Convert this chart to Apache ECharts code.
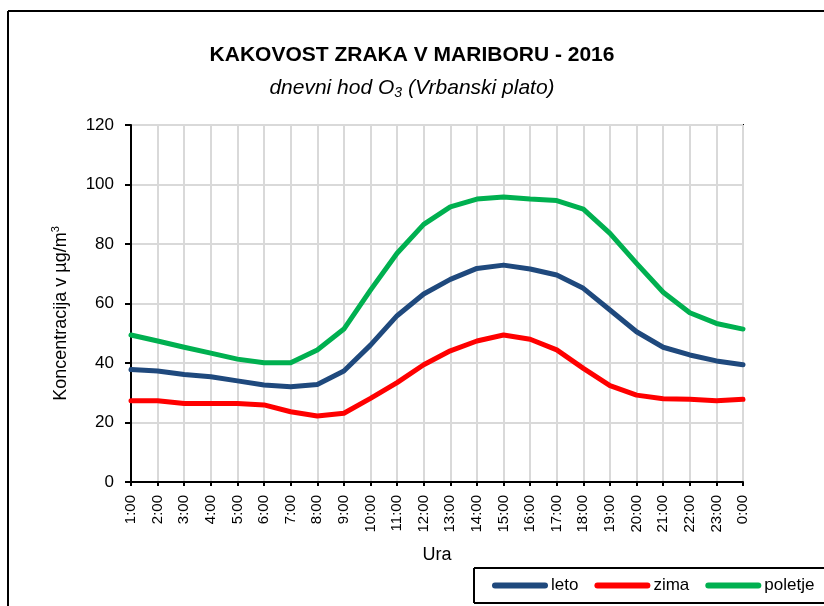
<!DOCTYPE html>
<html>
<head>
<meta charset="utf-8">
<script src="https://cdn.jsdelivr.net/npm/echarts@6/dist/echarts.min.js"></script>
<style>
html,body{margin:0;padding:0;background:#fff;overflow:hidden;}
#chart{width:824px;height:606px;}
</style>
</head>
<body>
<div id="chart"></div>
<script>
var hours = ['1:00','2:00','3:00','4:00','5:00','6:00','7:00','8:00','9:00','10:00','11:00','12:00',
  '13:00','14:00','15:00','16:00','17:00','18:00','19:00','20:00','21:00','22:00','23:00','0:00'];
var leto = [37.8,37.3,36.1,35.4,34.0,32.6,32.0,32.8,37.3,46.0,55.9,63.2,68.1,71.8,72.9,71.6,69.6,65.1,57.8,50.5,45.3,42.7,40.7,39.4];
var zima = [27.3,27.3,26.4,26.4,26.4,25.9,23.6,22.2,23.1,28.1,33.4,39.4,44.1,47.4,49.4,48.0,44.4,38.2,32.4,29.2,28.0,27.8,27.3,27.8];
var poletje = [49.4,47.4,45.3,43.3,41.3,40.1,40.1,44.4,51.4,64.5,76.9,86.6,92.5,95.1,95.8,95.1,94.6,91.7,83.6,73.5,63.8,56.9,53.3,51.4];
var seriesNames = ['leto','zima','poletje'];
var seriesColors = ['#1F497D','#FF0000','#00B050'];
var yTicks = {min:0, max:120, interval:20};

var FONT = "'Liberation Sans',Arial,sans-serif";

var chart = echarts.init(document.getElementById('chart'), null, {renderer:'canvas'});
var capsule = 'path://M3,0 L53,0 A3,3 0 0 1 53,6 L3,6 A3,3 0 0 1 3,0 Z';

var option = {
  backgroundColor:'#fff',
  animation:false,
  graphic:[{
    type:'line', z:-10,
    shape:{x1:8, y1:11, x2:1000, y2:11},
    style:{stroke:'#000', lineWidth:2}
  },{
    type:'line', z:-10,
    shape:{x1:8, y1:11, x2:8, y2:1000},
    style:{stroke:'#000', lineWidth:2}
  },{
    type:'line', z:-5,
    shape:{x1:474, y1:568, x2:1000, y2:568},
    style:{stroke:'#000', lineWidth:2}
  },{
    type:'line', z:-5,
    shape:{x1:474, y1:568, x2:474, y2:603},
    style:{stroke:'#000', lineWidth:2}
  },{
    type:'line', z:-5,
    shape:{x1:474, y1:603, x2:1000, y2:603},
    style:{stroke:'#000', lineWidth:2}
  }],
  title:[{
    text:'KAKOVOST ZRAKA V MARIBORU - 2016',
    left:'center', top:40,
    textStyle:{fontFamily:FONT, fontSize:21, fontWeight:'bold', color:'#000'}
  },{
    text:'{a|dnevni hod O}{s|3}{a| (Vrbanski plato)}',
    left:'center', top:71,
    textStyle:{
      fontWeight:'normal',
      rich:{
        a:{fontFamily:FONT, fontSize:21, fontStyle:'italic', fontWeight:'normal', color:'#000', lineHeight:24, verticalAlign:'middle'},
        s:{fontFamily:FONT, fontSize:14, fontStyle:'italic', fontWeight:'normal', color:'#000', lineHeight:14, verticalAlign:'bottom'}
      }
    }
  }],
  legend:{
    left:474, top:568, width:340,
    data:seriesNames.map(function(n){return {name:n, icon:capsule};}),
    itemWidth:56, itemHeight:6, itemGap:16,
    padding:[9,0,8,18],
    textStyle:{fontFamily:FONT, fontSize:17, color:'#000', padding:[0,0,0,-2]}
  },
  grid:{left:131, right:81, top:125, bottom:124, show:true, borderColor:'#000', borderWidth:2},
  xAxis:{
    type:'category', data:hours, boundaryGap:false,
    name:'Ura', nameLocation:'middle', nameGap:64,
    nameTextStyle:{fontFamily:FONT, fontSize:18, color:'#000'},
    axisLine:{lineStyle:{color:'#000', width:2}},
    axisTick:{show:true, length:4, lineStyle:{color:'#000', width:2}, alignWithLabel:true},
    axisLabel:{rotate:90, interval:0, margin:13, fontFamily:FONT, fontSize:15, color:'#000'},
    splitLine:{show:true, interval:0, lineStyle:{color:'#d9d9d9', width:2}}
  },
  yAxis:{
    type:'value', min:yTicks.min, max:yTicks.max, interval:yTicks.interval,
    name:'{a|Koncentracija v µg/m}{s|3}', nameLocation:'middle', nameGap:59,
    nameTextStyle:{padding:[0,20,0,0], rich:{
      a:{fontFamily:FONT, fontSize:18, color:'#000', lineHeight:22, verticalAlign:'middle'},
      s:{fontFamily:FONT, fontSize:11, color:'#000', lineHeight:11, verticalAlign:'top'}
    }},
    axisLine:{show:true, lineStyle:{color:'#000', width:2}},
    axisTick:{show:true, length:6, lineStyle:{color:'#000', width:2}},
    axisLabel:{margin:17, fontFamily:FONT, fontSize:17, color:'#000'},
    splitLine:{show:true, lineStyle:{color:'#d9d9d9', width:2}}
  },
  series:[leto, zima, poletje].map(function(d,i){
    return {
      name:seriesNames[i], type:'line', data:d,
      symbol:'none', smooth:false,
      lineStyle:{color:seriesColors[i], width:5, cap:'round', join:'round'},
      itemStyle:{color:seriesColors[i]}
    };
  })
};
chart.setOption(option);
</script>
</body>
</html>
